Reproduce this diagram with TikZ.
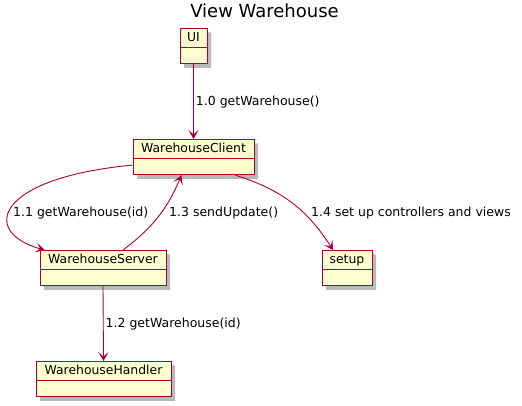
\documentclass[tikz,border=0pt]{standalone}
\usepackage{fontspec}
\setmainfont{DejaVu Sans}
\usetikzlibrary{arrows.meta,shapes.multipart,shadows}
\definecolor{umlborder}{RGB}{168,0,54}
\definecolor{umlfill}{RGB}{254,254,206}

\begin{document}
\begin{tikzpicture}[x=1pt,y=-1pt,
  obj/.style={rectangle split,rectangle split parts=2,draw=umlborder,fill=umlfill,line width=0.9pt,
    font=\fontsize{12.4}{14}\selectfont,inner xsep=0pt,inner ysep=3pt,text height=9.5pt,text depth=3pt,
    rectangle split empty part height=9pt,rectangle split empty part depth=0pt,anchor=north,
    drop shadow={shadow xshift=4pt,shadow yshift=-4pt,fill=black!55,opacity=0.5}},
  lbl/.style={font=\fontsize{12.5}{14}\selectfont,anchor=west,inner sep=0pt},
  arr/.style={-{Stealth[length=9pt,width=10pt,inset=4.5pt]},draw=umlborder,line width=0.9pt}]
  \useasboundingbox (0,0) rectangle (522,405);
  \node[font=\fontsize{18}{20}\selectfont] (title) at (264.5,11) {View Warehouse};
  \node[obj,minimum width=27pt] (UI) at (193.5,28) {UI\nodepart{two}};
  \node[obj,minimum width=121pt] (Client) at (193.5,139) {WarehouseClient\nodepart{two}};
  \node[obj,minimum width=126pt] (Server) at (103,250) {WarehouseServer\nodepart{two}};
  \node[obj,minimum width=50pt] (setup) at (347,250) {setup\nodepart{two}};
  \node[obj,minimum width=135pt] (Handler) at (103.5,361) {WarehouseHandler\nodepart{two}};
  \draw[arr] (UI.south) -- (Client.north) node[lbl,midway,xshift=2pt] {1.0 getWarehouse()};
  \draw[arr] ([yshift=-8pt]Client.west) .. controls (-5,178) and (-20,232) .. ([xshift=5pt]Server.north west);
  \draw[arr] ([xshift=20pt]Server.north) to[bend right=15] ([xshift=-12pt]Client.south);
  \draw[arr] ([xshift=42pt]Client.south) to[bend left=20] ([xshift=-14pt]setup.north);
  \draw[arr] (Server.south) -- (Handler.north) node[lbl,midway,xshift=2pt] {1.2 getWarehouse(id)};
  \node[lbl] (l11) at (13,213) {1.1 getWarehouse(id)};
  \node[lbl] (l13) at (169,213) {1.3 sendUpdate()};
  \node[lbl] (l14) at (311,213) {1.4 set up controllers and views};
\end{tikzpicture}
\end{document}
